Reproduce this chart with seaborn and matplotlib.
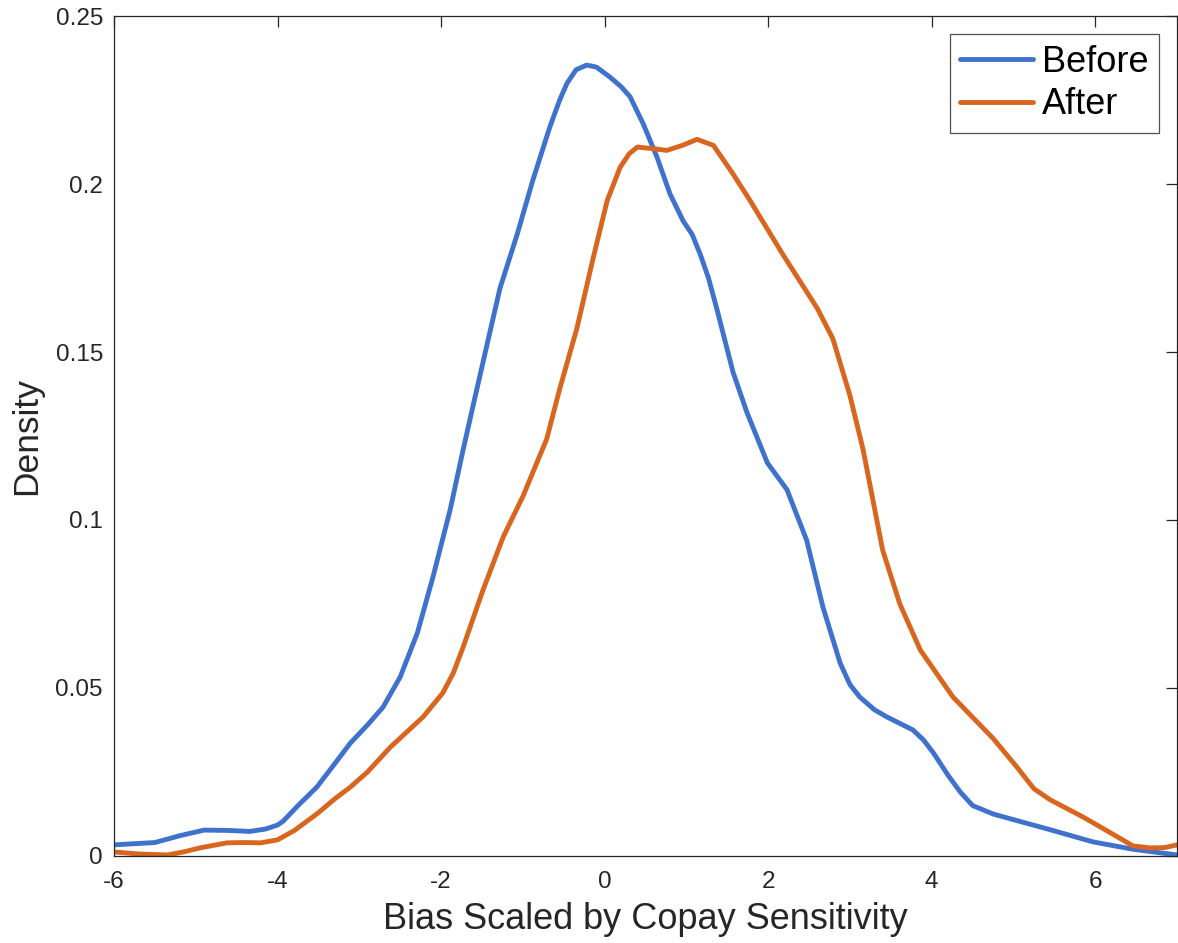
import matplotlib
matplotlib.use("Agg")
import matplotlib.pyplot as plt
import seaborn as sns
import pandas as pd

# ---- data ----
before_x = [-6.0, -5.5, -5.2, -4.9, -4.6, -4.34, -4.15, -4.0, -3.93, -3.75, -3.52, -3.3, -3.11,
            -2.9, -2.71, -2.5, -2.29, -2.1, -1.89, -1.73, -1.6, -1.49, -1.28, -1.07, -0.88,
            -0.67, -0.55, -0.46, -0.35, -0.22, -0.1, 0.066, 0.2, 0.31, 0.47, 0.64, 0.8, 0.96,
            1.07, 1.17, 1.27, 1.37, 1.57, 1.74, 1.99, 2.23, 2.47, 2.67, 2.88, 3.0, 3.12, 3.3,
            3.45, 3.77, 3.9, 4.02, 4.2, 4.35, 4.5, 4.75, 5.0, 5.45, 5.97, 6.46, 7.0]
before_y = [0.0033, 0.0040, 0.0060, 0.0077, 0.0076, 0.0073, 0.0080, 0.0092, 0.0104, 0.0150,
            0.0205, 0.0275, 0.0336, 0.0390, 0.0443, 0.0533, 0.0664, 0.083, 0.103, 0.121, 0.135,
            0.1467, 0.169, 0.185, 0.201, 0.217, 0.225, 0.230, 0.234, 0.2354, 0.2348, 0.2318,
            0.229, 0.226, 0.218, 0.208, 0.197, 0.189, 0.185, 0.179, 0.172, 0.163, 0.144, 0.132,
            0.117, 0.109, 0.094, 0.074, 0.0574, 0.051, 0.0473, 0.0435, 0.0414, 0.0375, 0.0345,
            0.0307, 0.024, 0.0190, 0.0150, 0.0125, 0.0108, 0.0078, 0.0042, 0.0020, 0.0003]

after_x = [-6.0, -5.7, -5.35, -5.15, -4.95, -4.62, -4.4, -4.21, -4.0, -3.8, -3.52, -3.3, -3.11,
           -2.9, -2.62, -2.22, -1.98, -1.85, -1.73, -1.49, -1.24, -1.0, -0.83, -0.71, -0.55,
           -0.34, -0.14, 0.03, 0.19, 0.3, 0.4, 0.6, 0.76, 0.95, 1.13, 1.33, 1.57, 1.78, 2.18,
           2.6, 2.79, 3.0, 3.16, 3.28, 3.4, 3.61, 3.86, 4.26, 4.75, 5.04, 5.25, 5.45, 5.85, 6.0,
           6.27, 6.46, 6.67, 6.85, 7.0]
after_y = [0.0012, 0.0006, 0.0003, 0.0012, 0.0024, 0.0039, 0.0040, 0.0039, 0.0048, 0.0075,
           0.0125, 0.0170, 0.0205, 0.0250, 0.0324, 0.0414, 0.0485, 0.0545, 0.0622, 0.079,
           0.095, 0.107, 0.117, 0.124, 0.139, 0.157, 0.178, 0.195, 0.205, 0.209, 0.211, 0.2105,
           0.2100, 0.2115, 0.2133, 0.2115, 0.203, 0.195, 0.179, 0.163, 0.154, 0.137, 0.121,
           0.106, 0.091, 0.075, 0.0613, 0.0473, 0.0350, 0.0265, 0.0200, 0.0167, 0.0116, 0.0095,
           0.0057, 0.0030, 0.0024, 0.0025, 0.0033]

series_names = ["Before", "After"]
series_colors = ["#3F72CC", "#D9661F"]
x_ticks = [-6, -4, -2, 0, 2, 4, 6]
y_ticks = [0, 0.05, 0.1, 0.15, 0.2, 0.25]
y_tick_labels = ["0", "0.05", "0.1", "0.15", "0.2", "0.25"]

df = pd.concat([
    pd.DataFrame({"x": before_x, "y": before_y, "series": series_names[0]}),
    pd.DataFrame({"x": after_x, "y": after_y, "series": series_names[1]}),
], ignore_index=True)

sns.set_style("white")
plt.rcParams["font.family"] = ["Liberation Sans", "DejaVu Sans"]

fig = plt.figure(figsize=(11.78, 9.43), dpi=100)
ax = fig.add_axes([0.0968, 0.0923, 0.9024, 0.8907])

sns.lineplot(data=df, x="x", y="y", hue="series", hue_order=series_names,
             palette=series_colors, sort=False, estimator=None, linewidth=3.5,
             solid_joinstyle="round", solid_capstyle="round", ax=ax)

ax.set_xlim(-6, 7)
ax.set_ylim(0, 0.25)
ax.set_xticks(x_ticks)
ax.set_xticklabels([str(t) for t in x_ticks])
ax.set_yticks(y_ticks)
ax.set_yticklabels(y_tick_labels)

edge = "#262626"
for s in ax.spines.values():
    s.set_visible(True)
    s.set_color(edge)
    s.set_linewidth(0.9)
ax.tick_params(direction="in", length=8, width=0.9, color=edge, labelcolor=edge,
               labelsize=17.5, top=True, right=True)
ax.tick_params(axis="x", pad=11)
ax.tick_params(axis="y", pad=8)

ax.set_xlabel("Bias Scaled by Copay Sensitivity", fontsize=26, color=edge, labelpad=6)
ax.set_ylabel("Density", fontsize=25.5, color=edge, labelpad=9)

leg = ax.legend(loc="upper right", fontsize=26, frameon=True, fancybox=False,
                edgecolor=edge, handlelength=2.0, handletextpad=0.25,
                borderpad=0.3, labelspacing=0.2, borderaxespad=0.5)
leg.get_frame().set_linewidth(0.9)
for t in leg.get_texts():
    t.set_color("black")

fig.savefig("out.png", dpi=100)
